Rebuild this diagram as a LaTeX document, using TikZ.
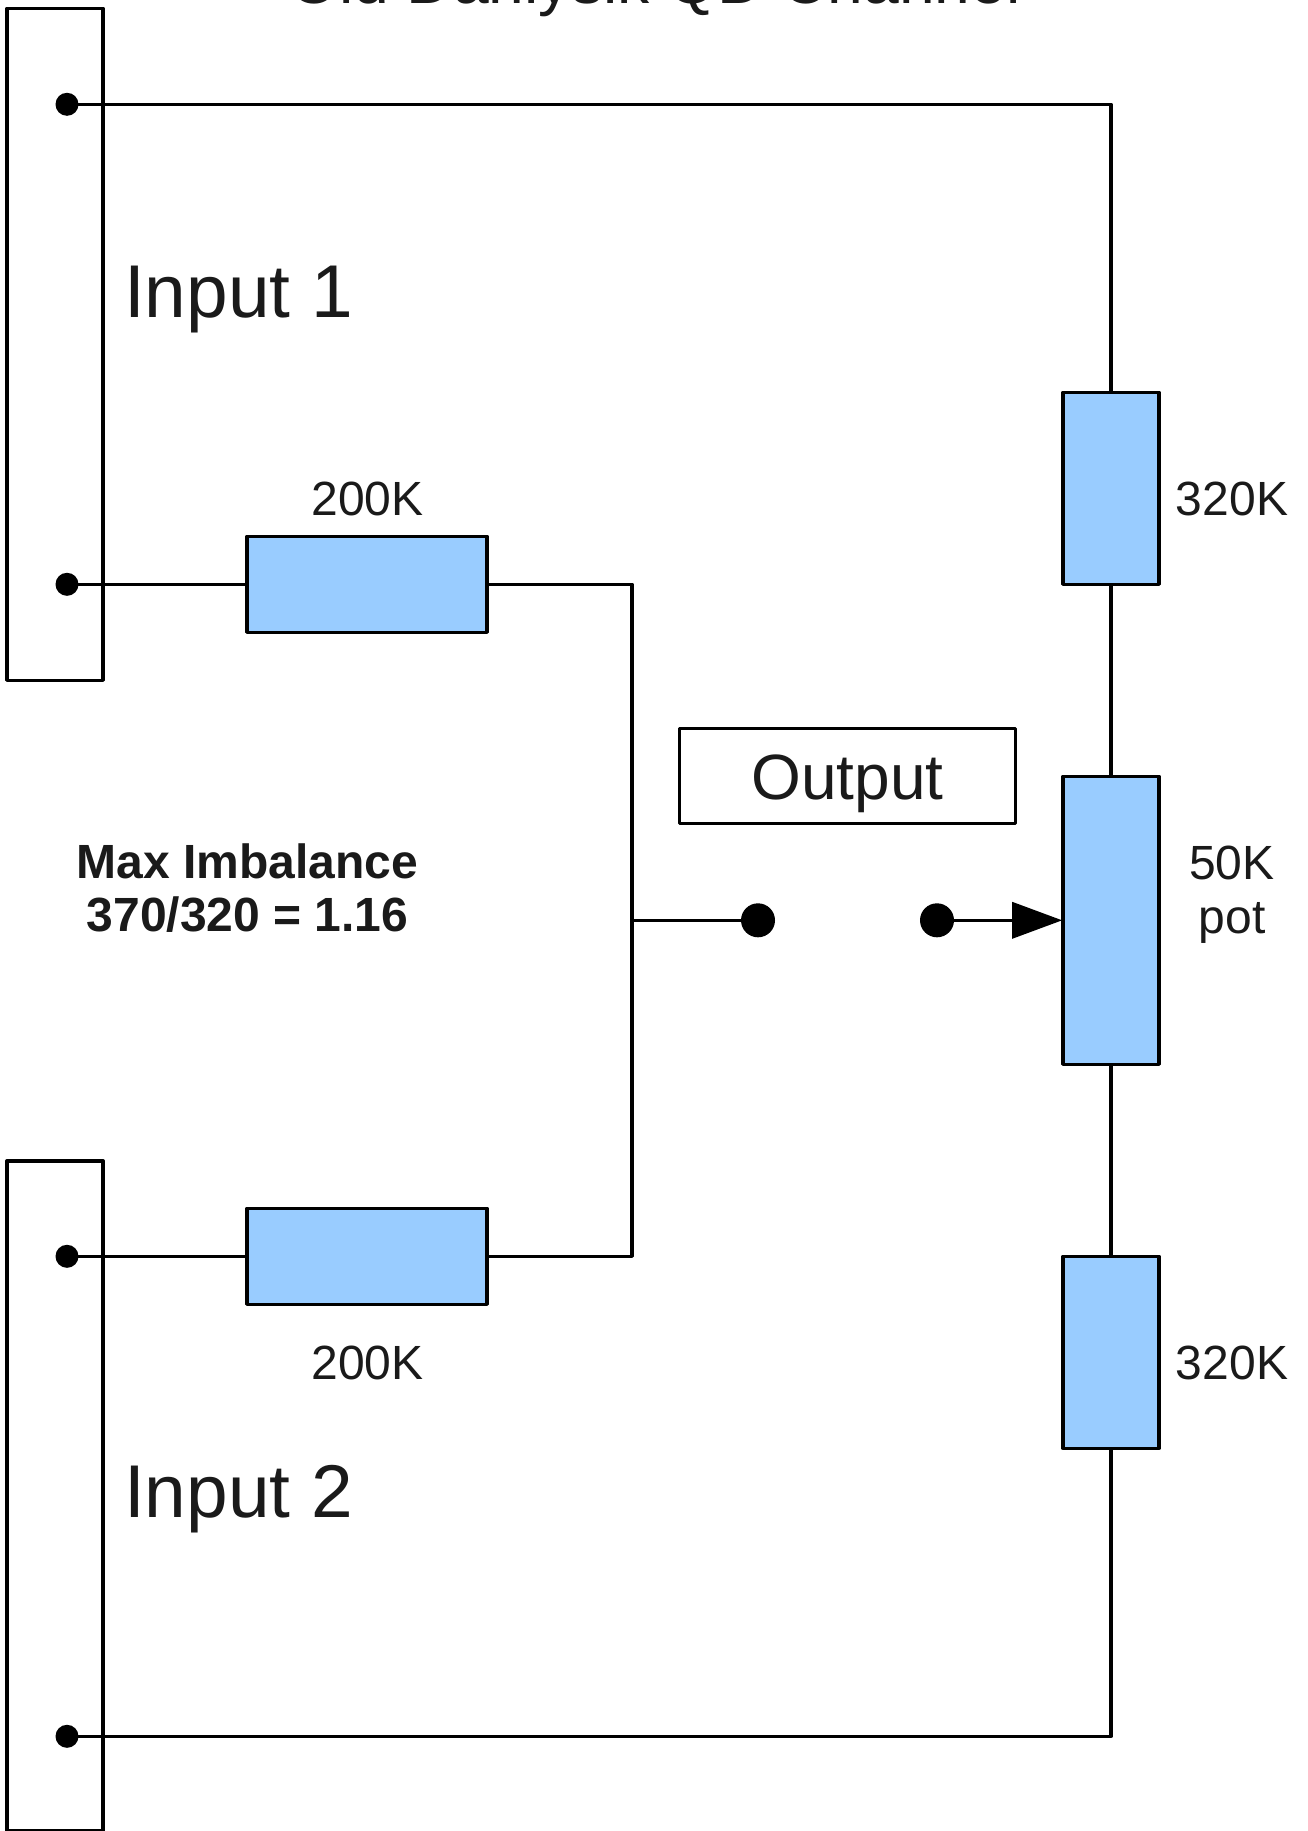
\documentclass[tikz,border=0pt]{standalone}
\usepackage{fontspec}
\setmainfont{Liberation Sans}
\usetikzlibrary{arrows.meta}
\definecolor{resblue}{HTML}{99CCFF}
\definecolor{txt}{HTML}{1A1A1A}
\tikzset{
  wire/.style={line width=3.6pt,line cap=round,line join=round},
  resistor/.style={draw,line width=3.6pt,fill=resblue,line join=round},
  portbox/.style={draw,line width=3.6pt,fill=white,line join=round},
  lbl/.style={text=txt,inner sep=0pt,align=center,font=\fontsize{48pt}{52pt}\selectfont},
  biglbl/.style={text=txt,inner sep=0pt,anchor=base west,font=\fontsize{74.8pt}{80pt}\selectfont},
  smalldot/.style={circle,fill=black,draw=none,minimum size=23pt,inner sep=0pt},
  bigdot/.style={circle,fill=black,draw=none,minimum size=34pt,inner sep=0pt},
}
\begin{document}
\begin{tikzpicture}[x=1pt,y=-1pt]
\useasboundingbox (0,0) rectangle (1307,1831);
\clip (0,0) rectangle (1307,1831);
\fill[white] (0,0) rectangle (1307,1831);
\begin{scope}[shift={(0,0.3)}]
% title (cut off by the top edge)
\node[text=txt,inner sep=0pt,anchor=base,font=\fontsize{64.2pt}{70pt}\selectfont] (title) at (655,3) {Old Danlysik QD Channel};
% input boxes
\draw[portbox] (7,8) rectangle (103,680);
\draw[portbox] (7,1160.5) rectangle (103,1830);
\node[biglbl] (in1) at (124,317) {Input 1};
\node[biglbl] (in2) at (124,1517) {Input 2};
% named nodes
\node[smalldot] (d1) at (67,104) {};
\node[smalldot] (d2) at (67,584) {};
\node[smalldot] (d3) at (67,1256) {};
\node[smalldot] (d4) at (67,1736) {};
\node[bigdot] (o1) at (758,920) {};
\node[bigdot] (o2) at (937,920) {};
\node[resistor,minimum width=240pt,minimum height=96pt,inner sep=0pt] (r1) at (367,584) {};
\node[resistor,minimum width=240pt,minimum height=96pt,inner sep=0pt] (r2) at (367,1256) {};
\node[resistor,minimum width=96pt,minimum height=192pt,inner sep=0pt] (r3) at (1111,488) {};
\node[resistor,minimum width=96pt,minimum height=288pt,inner sep=0pt] (pot) at (1111,920) {};
\node[resistor,minimum width=96pt,minimum height=192pt,inner sep=0pt] (r4) at (1111,1352) {};
\node[portbox,minimum width=336pt,minimum height=95pt,inner sep=0pt,text=txt,text height=60pt,text depth=13pt,font=\fontsize{64pt}{70pt}\selectfont] (out) at (847.5,775.5) {Output};
\coordinate (tr) at (1111,104);
\coordinate (br) at (1111,1736);
\coordinate (jt) at (632,584);
\coordinate (jm) at (632,920);
\coordinate (jb) at (632,1256);
% wires
\draw[wire] (d1.center) -- (tr) -- (r3.north);
\draw[wire] (r3.south) -- (pot.north);
\draw[wire] (pot.south) -- (r4.north);
\draw[wire] (r4.south) -- (br) -- (d4.center);
\draw[wire] (d2.center) -- (r1.west);
\draw[wire] (d3.center) -- (r2.west);
\draw[wire] (r1.east) -- (jt) -- (jb) -- (r2.east);
\draw[wire] (jm) -- (o1.center);
\draw[wire,line cap=butt,-{Triangle[length=50pt,width=36pt,fill=black]}] (o2.center) -- ([xshift=1pt]pot.west);
% labels
\node[lbl,anchor=base] (l1) at (367.5,515) {200K};
\node[lbl,anchor=base] (l2) at (367.5,1379) {200K};
\node[lbl,anchor=base] (l3) at (1232,515) {320K};
\node[lbl,anchor=base] (l4) at (1232,1379) {320K};
\node[lbl,anchor=base] (l5) at (1232,879) {50K};
\node[lbl,anchor=base] (l6) at (1232,933) {pot};
\node[lbl,anchor=base,font=\fontsize{48pt}{52pt}\selectfont\bfseries] (m1) at (247.5,878) {Max Imbalance};
\node[lbl,anchor=base,font=\fontsize{48pt}{52pt}\selectfont\bfseries] (m2) at (247.5,931) {370/320 = 1.16};
\end{scope}
\end{tikzpicture}
\end{document}
